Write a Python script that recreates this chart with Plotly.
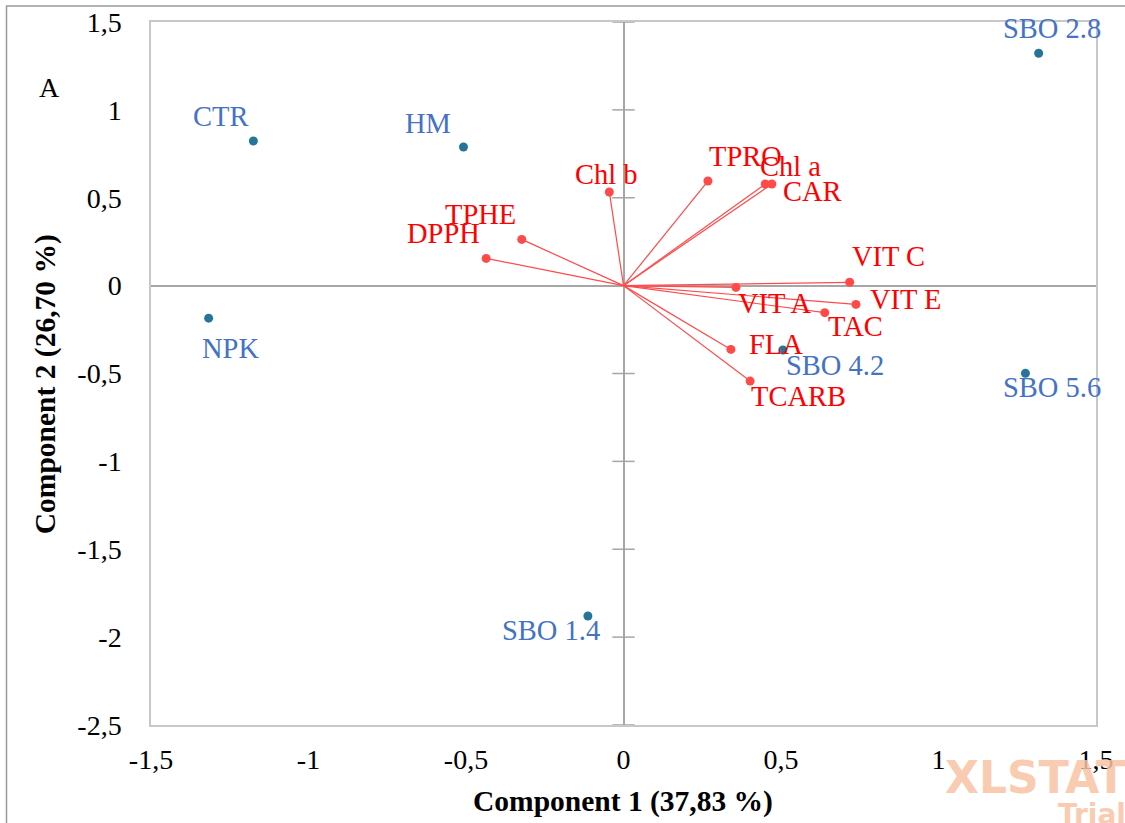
import plotly.graph_objects as go

# ---------------- data ----------------
obs_names = ["CTR", "HM", "NPK", "SBO 1.4", "SBO 2.8", "SBO 4.2", "SBO 5.6"]
obs_x = [-1.175, -0.508, -1.317, -0.113, 1.318, 0.506, 1.276]
obs_y = [0.823, 0.789, -0.185, -1.880, 1.322, -0.366, -0.499]

var_names = ["Chl a", "Chl b", "CAR", "TPRO", "TPHE", "FLA", "DPPH", "TAC",
             "VIT C", "VIT A", "VIT E", "TCARB"]
var_x = [0.450, -0.045, 0.471, 0.268, -0.323, 0.341, -0.436, 0.639, 0.718, 0.357, 0.738, 0.402]
var_y = [0.578, 0.533, 0.578, 0.595, 0.263, -0.363, 0.155, -0.154, 0.019, -0.010, -0.107, -0.543]

x_ticks = [-1.5, -1, -0.5, 0, 0.5, 1, 1.5]
x_ticktext = ["-1,5", "-1", "-0,5", "0", "0,5", "1", "1,5"]
y_ticks = [-2.5, -2, -1.5, -1, -0.5, 0, 0.5, 1, 1.5]
y_ticktext = ["-2,5", "-2", "-1,5", "-1", "-0,5", "0", "0,5", "1", "1,5"]

x_title = "Component 1 (37,83 %)"
y_title = "Component 2 (26,70 %)"
panel_label = "A"

# label offsets in pixels (style only)
obs_offsets = {"CTR": (-33, 24.5), "HM": (-35, 23.5), "NPK": (22, -30.5), "SBO 1.4": (-37, -14.5),
               "SBO 2.8": (13, 24.5), "SBO 4.2": (52, -16), "SBO 5.6": (27, -14.5)}
var_offsets = {"Chl a": (25, 18), "Chl b": (-3, 17.5), "CAR": (40.5, -7.5), "TPRO": (38, 24.5),
               "TPHE": (-41, 24.5), "FLA": (45, 4.5), "DPPH": (-43, 24.5), "TAC": (31, -13.5),
               "VIT C": (39, 25.5), "VIT A": (39.5, -16.5), "VIT E": (50, 4.5), "TCARB": (48, -15.5)}

SERIF = "Liberation Serif, Times New Roman, serif"
RED_LINE = "#FF4A4A"
RED_TEXT = "#FF0000"
OBS_DOT = "#267598"
OBS_TEXT = "#4472C4"
AXIS_GRAY = "#A6A6A6"

fig = go.Figure()

# cross tick marks on the vertical zero axis
tick_y = [v for v in y_ticks if v != 0]
fig.add_trace(go.Scatter(
    x=[0] * len(tick_y), y=tick_y, mode="markers", hoverinfo="skip",
    marker=dict(symbol="line-ew", size=16, line=dict(color=AXIS_GRAY, width=1.5)),
    showlegend=False, cliponaxis=False))

# vectors from origin
lx, ly = [], []
for vx, vy in zip(var_x, var_y):
    lx += [0, vx, None]
    ly += [0, vy, None]
fig.add_trace(go.Scatter(x=lx, y=ly, mode="lines", line=dict(color=RED_LINE, width=1.2),
                         hoverinfo="skip", showlegend=False))
fig.add_trace(go.Scatter(x=var_x, y=var_y, mode="markers", text=var_names,
                         marker=dict(color=RED_LINE, size=9), showlegend=False))
fig.add_trace(go.Scatter(x=obs_x, y=obs_y, mode="markers", text=obs_names,
                         marker=dict(color=OBS_DOT, size=9), showlegend=False, cliponaxis=False))

annotations = []
for n, vx, vy in zip(var_names, var_x, var_y):
    dx, dy = var_offsets[n]
    annotations.append(dict(x=vx, y=vy, xref="x", yref="y", text=n, showarrow=False,
                            xshift=dx, yshift=dy, xanchor="center", yanchor="middle",
                            font=dict(family=SERIF, size=28.5, color=RED_TEXT)))
for n, ox, oy in zip(obs_names, obs_x, obs_y):
    dx, dy = obs_offsets[n]
    annotations.append(dict(x=ox, y=oy, xref="x", yref="y", text=n, showarrow=False,
                            xshift=dx, yshift=dy, xanchor="center", yanchor="middle",
                            font=dict(family=SERIF, size=28.5, color=OBS_TEXT)))

# titles and panel letter
annotations.append(dict(x=0.4995, y=-0.109, xref="paper", yref="paper", text="<b>" + x_title + "</b>",
                        showarrow=False, xanchor="center", yanchor="middle",
                        font=dict(family=SERIF, size=29.5, color="black")))
annotations.append(dict(x=-0.112, y=0.485, xref="paper", yref="paper", text="<b>" + y_title + "</b>",
                        showarrow=False, textangle=-90, xanchor="center", yanchor="middle",
                        font=dict(family=SERIF, size=29.5, color="black")))
annotations.append(dict(x=-0.107, y=0.907, xref="paper", yref="paper", text=panel_label,
                        showarrow=False, xanchor="center", yanchor="middle",
                        font=dict(family=SERIF, size=28, color="black")))
# watermark
annotations.append(dict(x=0.838, y=-0.074, xref="paper", yref="paper", text="<b>XLSTAT</b>",
                        showarrow=False, xanchor="left", yanchor="middle", opacity=0.85,
                        font=dict(family="DejaVu Sans", size=44, color="#F8C4A4")))
annotations.append(dict(x=1.034, y=-0.127, xref="paper", yref="paper", text="<b>Trial</b>",
                        showarrow=False, xanchor="right", yanchor="middle", opacity=0.85,
                        font=dict(family="DejaVu Sans", size=28, color="#F8C4A4")))

fig.update_layout(
    width=1125, height=823,
    margin=dict(l=151, r=29, t=22, b=98, autoexpand=False),
    paper_bgcolor="white", plot_bgcolor="white",
    annotations=annotations,
    shapes=[dict(type="rect", xref="paper", yref="paper", x0=-0.1529, x1=1.3, y0=-0.4, y1=1.0228,
                 line=dict(color="#999999", width=1.5), layer="below")],
    font=dict(family=SERIF, size=28, color="black"),
    hovermode="closest",
)
fig.update_xaxes(range=[-1.5, 1.5], tickvals=x_ticks, ticktext=x_ticktext, showgrid=False,
                 zeroline=True, zerolinecolor=AXIS_GRAY, zerolinewidth=2,
                 showline=True, mirror=True, linecolor="#C8C8C8", linewidth=1.5,
                 ticks="", ticklabelstandoff=9, automargin=False,
                 tickfont=dict(family=SERIF, size=28, color="black"))
fig.update_yaxes(range=[-2.5, 1.5], tickvals=y_ticks, ticktext=y_ticktext, showgrid=False,
                 zeroline=True, zerolinecolor=AXIS_GRAY, zerolinewidth=2,
                 showline=True, mirror=True, linecolor="#C8C8C8", linewidth=1.5,
                 ticks="", ticklabelstandoff=22, automargin=False,
                 tickfont=dict(family=SERIF, size=28, color="black"))

fig.write_html(
    "out.html",
    config={"displayModeBar": False},
    post_script=("document.documentElement.style.margin='0';"
                 "document.body.style.margin='0';document.body.style.padding='0';"
                 "document.body.style.overflow='hidden';"
                 "var gd=document.getElementById('{plot_id}');"
                 "gd.style.position='absolute';gd.style.top='0px';gd.style.left='0px';"),
)
